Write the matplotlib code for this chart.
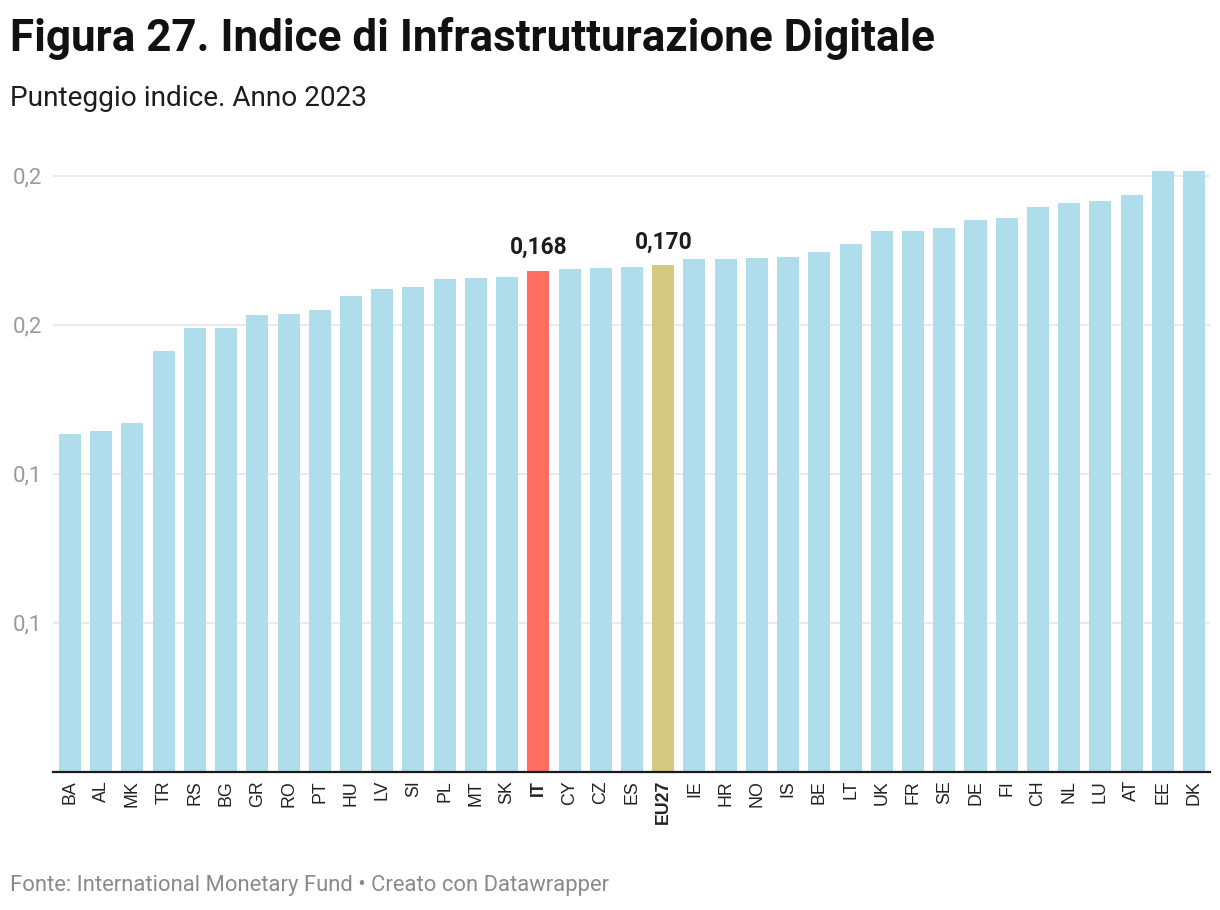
import matplotlib.pyplot as plt

plt.rcParams['font.family'] = ['Roboto', 'DejaVu Sans']

# data
countries = ["BA", "AL", "MK", "TR", "RS", "BG", "GR", "RO", "PT", "HU", "LV", "SI",
             "PL", "MT", "SK", "IT", "CY", "CZ", "ES", "EU27", "IE", "HR", "NO", "IS",
             "BE", "LT", "UK", "FR", "SE", "DE", "FI", "CH", "NL", "LU", "AT", "EE", "DK"]
scores = [0.1133, 0.1143, 0.1170, 0.1412, 0.1489, 0.1489, 0.1533, 0.1536, 0.1549,
          0.1596, 0.1620, 0.1627, 0.1653, 0.1657, 0.1660, 0.168, 0.1687, 0.1690,
          0.1694, 0.170, 0.1720, 0.1720, 0.1724, 0.1727, 0.1744, 0.1771, 0.1815,
          0.1815, 0.1825, 0.1852, 0.1859, 0.1896, 0.1909, 0.1916, 0.1936, 0.2016, 0.2016]
highlight = {"IT": "#ff6d63", "EU27": "#d3c982"}
value_labels = {"IT": "0,168", "EU27": "0,170"}
yticks = [0.05, 0.10, 0.15, 0.20]
ytick_labels = ["0,1", "0,1", "0,2", "0,2"]

BLUE = "#afddec"

fig = plt.figure(figsize=(12.2, 9.1), dpi=100)
W, H = 1220, 910
left, right = 53, 1210
base, top = 771.7, 145.9
ax = fig.add_axes([left / W, (H - base) / H, (right - left) / W, (base - top) / H])

x = list(range(len(countries)))
colors = [highlight.get(c, BLUE) for c in countries]
ax.bar(x, scores, width=0.705, color=colors, zorder=2)

for i, c in enumerate(countries):
    if c in value_labels:
        ax.annotate(value_labels[c], (i, scores[i]), xytext=(0, 8.5),
                    textcoords="offset points", ha="center", va="bottom",
                    fontsize=16.4, fontweight="bold", color="#1d1d1d")

ax.set_xlim(-0.544, 36.51)
ax.set_ylim(0, 0.21)
ax.set_yticks(yticks)
ax.set_yticklabels(ytick_labels)
ax.set_xticks(x)
ax.set_xticklabels(countries, rotation=90, family=["Liberation Sans", "DejaVu Sans"])
for lab in ax.get_xticklabels():
    if lab.get_text() in highlight:
        lab.set_fontweight("bold")
        lab.set_color("#111111")

ax.tick_params(axis="x", length=0, pad=6, labelsize=12.8, labelcolor="#222222")
ax.tick_params(axis="y", length=0, pad=8, labelsize=16, labelcolor="#9a9a9a")
ax.grid(axis="y", color="#e6e6e6", linewidth=1.2, zorder=0)
for s in ["top", "right", "left"]:
    ax.spines[s].set_visible(False)
ax.spines["bottom"].set_color("#1a1a1a")
ax.spines["bottom"].set_linewidth(1.6)
ax.spines["bottom"].set_zorder(3)

fig.text(10 / W, 1 - 38 / H, "Figura 27. Indice di Infrastrutturazione Digitale",
         fontsize=31.7, fontweight="bold", color="#111111", va="center", ha="left")
fig.text(10 / W, 1 - 98 / H, "Punteggio indice. Anno 2023",
         fontsize=20.2, color="#1d1d1d", va="center", ha="left")
fig.text(10 / W, 1 - 886 / H, "Fonte: International Monetary Fund \u2022 Creato con Datawrapper",
         fontsize=15.8, color="#8a8a8a", va="center", ha="left")

fig.savefig("out.png", dpi=100)
